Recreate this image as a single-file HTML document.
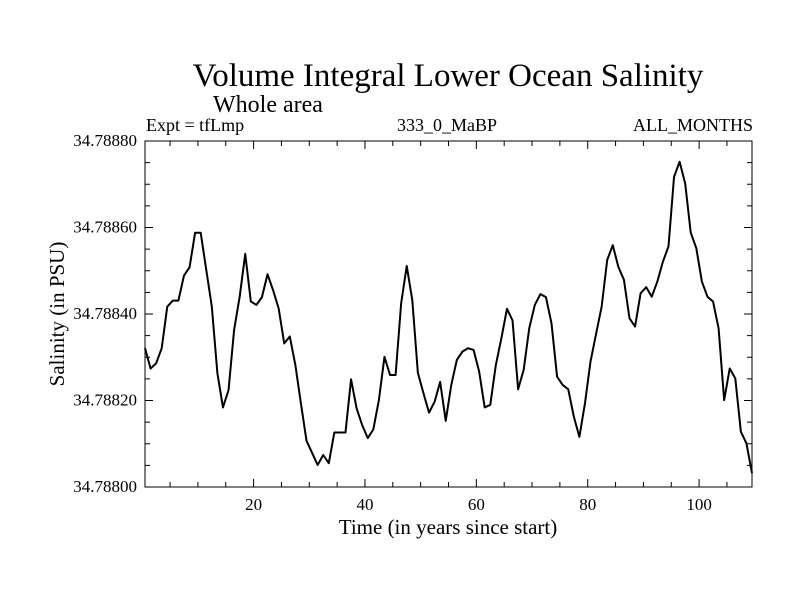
<!DOCTYPE html>
<html><head><meta charset="utf-8"><style>
html,body{margin:0;padding:0;background:#fff;}
svg{display:block;font-family:"Liberation Serif",serif;}
</style></head><body>
<svg width="800" height="600" viewBox="0 0 800 600">
<text x="448" y="86" font-size="33" text-anchor="middle">Volume Integral Lower Ocean Salinity</text>
<text x="213" y="112" font-size="24">Whole area</text>
<text x="146" y="131" font-size="18">Expt = tfLmp</text>
<text x="447" y="131" font-size="18" text-anchor="middle">333_0_MaBP</text>
<text x="753" y="131" font-size="18" text-anchor="end">ALL_MONTHS</text>
<g id="axes"></g>
<text x="448" y="534" font-size="21" text-anchor="middle">Time (in years since start)</text>
<text x="0" y="0" font-size="21" text-anchor="middle" transform="translate(64,314) rotate(-90)">Salinity (in PSU)</text>
</svg>
<script>
const years = [];
for (let i = 0; i < 110; i++) years.push(i + 0.5);
// salinity anomaly in units of 1e-5 PSU above 34.788
const salinityOffset = [32.1,27.4,28.6,32.1,41.7,43.1,43.1,48.9,50.8,58.8,58.8,50.2,41.7,26.3,18.4,22.4,36.3,44.0,53.9,42.9,
42.1,43.9,49.2,45.5,41.3,33.2,34.8,28.2,19.3,10.7,7.9,5.1,7.4,5.5,12.6,12.6,12.6,24.9,18.2,14.3,
11.3,13.3,20.1,30.1,25.9,25.9,42.5,51.1,43.2,26.4,21.7,17.2,19.7,24.3,15.3,23.6,29.4,31.3,32.1,31.7,
26.7,18.4,19.0,28.2,34.4,41.2,38.5,22.6,27.1,36.7,42.1,44.6,43.9,37.8,25.5,23.6,22.6,16.3,11.6,19.3,
29.0,35.4,41.7,52.5,55.9,50.9,47.9,39.0,37.1,44.8,46.2,44.0,47.5,52.1,55.6,71.7,75.2,70.2,58.8,55.2,
47.5,44.0,42.9,36.7,20.1,27.4,25.1,12.8,10.1,3.2];
const yTickLabels = ["34.78800","34.78820","34.78840","34.78860","34.78880"];
const xTickLabels = ["20","40","60","80","100"];

const L=145,R=752,T=141,B=487, xMin=0.5, xMax=109.5, yMin=34.788, yMax=34.7888;
const sx=v=>L+(v-xMin)/(xMax-xMin)*(R-L);
const sy=v=>B-(v-yMin)/(yMax-yMin)*(B-T);
const NS="http://www.w3.org/2000/svg";
const g=document.getElementById('axes');
function mk(tag,attrs){const e=document.createElementNS(NS,tag);for(const k in attrs)e.setAttribute(k,attrs[k]);g.appendChild(e);return e;}
const frame=mk('rect',{x:L,y:T,width:R-L,height:B-T,fill:'none',stroke:'#000','stroke-width':1});


for(let v=5;v<xMax;v+=5){
  const x=sx(v), len=(v%20===0)?8:5;
  const t1=mk('line',{x1:x,y1:B,x2:x,y2:B-len,stroke:'#000'});
  
  
  const t2=mk('line',{x1:x,y1:T,x2:x,y2:T+len,stroke:'#000'});
  
  
}
xTickLabels.forEach(s=>{
  const t=mk('text',{x:sx(+s),y:B+23,'font-size':17,'text-anchor':'middle'});t.textContent=s;
  
  
});
for(let k=0;k<=16;k++){
  const v=yMin+k*0.00005, y=sy(v), len=(k%4===0)?8:5;
  const t1=mk('line',{x1:L,y1:y,x2:L+len,y2:y,stroke:'#000'});
  
  
  const t2=mk('line',{x1:R,y1:y,x2:R-len,y2:y,stroke:'#000'});
  
  
}
yTickLabels.forEach(s=>{
  const t=mk('text',{x:137,y:sy(+s)+5,'font-size':17,'text-anchor':'end'});t.textContent=s;
  
  
});
const pts=years.map((yr,i)=>sx(yr).toFixed(2)+','+sy(yMin+salinityOffset[i]*1e-5).toFixed(2)).join(' ');
const line=mk('polyline',{points:pts,fill:'none',stroke:'#000','stroke-width':2,'stroke-linejoin':'round'});


</script>
</body></html>
